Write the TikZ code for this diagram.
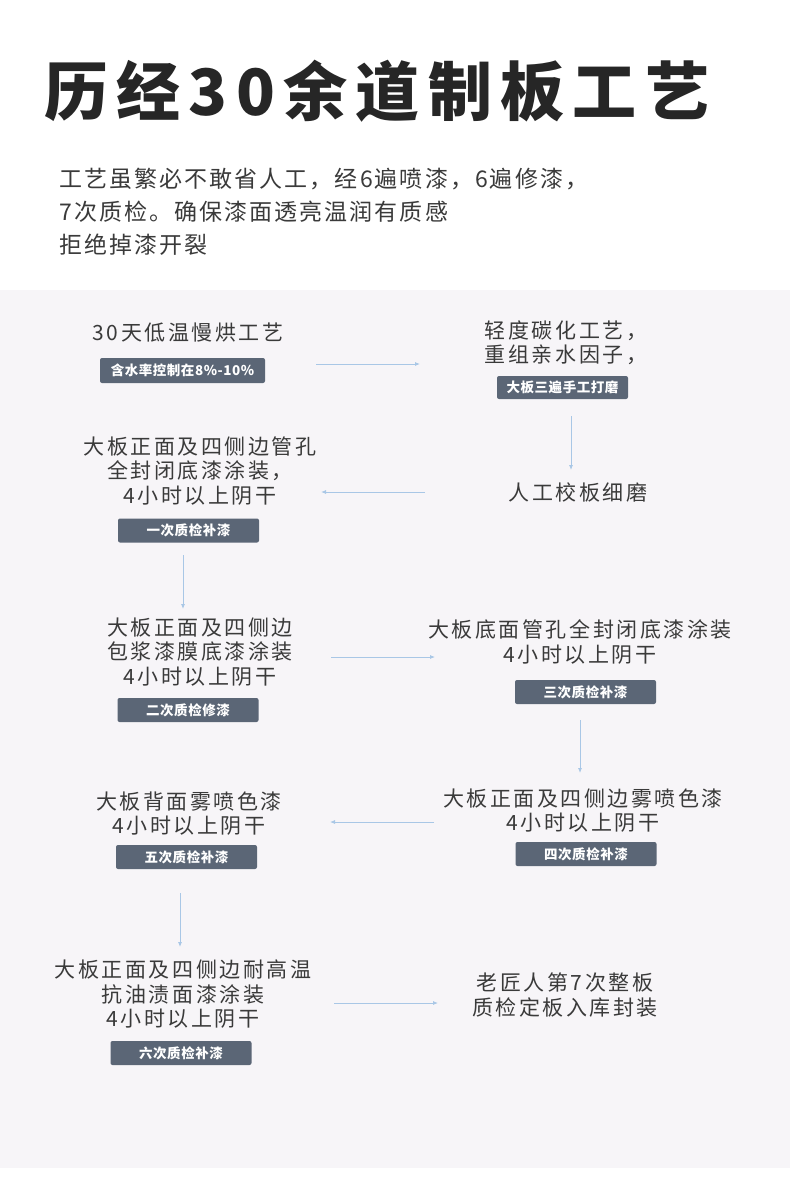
\documentclass[tikz,border=0pt]{standalone}
\usepackage{fontspec}
\usetikzlibrary{arrows.meta}
\setmainfont{Noto Sans CJK SC}
\newfontfamily\titlefont{Noto Sans CJK SC}[LetterSpace=13]
\newfontfamily\leadfont{Noto Sans CJK SC}[LetterSpace=9]
\newfontfamily\stepfont{Noto Sans CJK SC}[LetterSpace=12]
\newfontfamily\badgefont{Noto Sans CJK SC}[LetterSpace=4]

\begin{document}
\begin{tikzpicture}[x=1pt,y=-1pt,
  steptext/.style={font=\stepfont\fontsize{21}{24.5}\selectfont, text=mytext, align=center, inner sep=0pt},
  badge/.style={fill=mybadge, rounded corners=2pt, text=white, inner sep=0pt,
    font=\badgefont\bfseries\fontsize{13.5}{15}\selectfont, minimum width=141pt, minimum height=24pt},
  flow/.style={draw=myarrow, line width=0.8pt, -{Latex[length=5pt,width=4pt]}}]

\definecolor{mytext}{HTML}{3A3A3A}
\definecolor{mybadge}{HTML}{5B6676}
\definecolor{myarrow}{HTML}{A9C7E6}
\definecolor{myband}{HTML}{F7F5F8}

\useasboundingbox (0,0) rectangle (790,1193);
\fill[white] (0,0) rectangle (790,1193);
\fill[myband] (0,290) rectangle (790,1168);

% heading
\node[anchor=west, inner sep=0pt, text=black!85, font=\titlefont\bfseries\fontsize{64}{64}\selectfont]
  (title) at (44,91) {历经30余道制板工艺};
\node[anchor=north west, inner sep=0pt, text=mytext, align=left,
  font=\leadfont\fontsize{23}{33}\selectfont] (lead) at (59,168)
  {工艺虽繁必不敢省人工，经6遍喷漆，6遍修漆，\\7次质检。确保漆面透亮温润有质感\\拒绝掉漆开裂};

% steps
\node[steptext] (s1) at (188,333) {30天低温慢烘工艺};
\node[badge, minimum width=165pt, minimum height=25pt] (b1) at (182.5,370.5) {含水率控制在8\%-10\%};

\node[steptext] (s2) at (566,342.5) {轻度碳化工艺，\\重组亲水因子，};
\node[badge, minimum width=131pt, minimum height=23pt] (b2) at (562.5,387.5) {大板三遍手工打磨};

\node[steptext] (s3) at (578,492) {人工校板细磨};

\node[steptext] (s4) at (200,471) {大板正面及四侧边管孔\\全封闭底漆涂装，\\4小时以上阴干};
\node[badge] (b4) at (188.5,530.5) {一次质检补漆};

\node[steptext] (s5) at (200,652) {大板正面及四侧边\\包浆漆膜底漆涂装\\4小时以上阴干};
\node[badge] (b5) at (188,710) {二次质检修漆};

\node[steptext] (s6) at (580,642) {大板底面管孔全封闭底漆涂装\\4小时以上阴干};
\node[badge] (b6) at (585.5,692) {三次质检补漆};

\node[steptext] (s7) at (583,810.5) {大板正面及四侧边雾喷色漆\\4小时以上阴干};
\node[badge] (b7) at (586,854) {四次质检补漆};

\node[steptext] (s8) at (189,813.5) {大板背面雾喷色漆\\4小时以上阴干};
\node[badge] (b8) at (186.5,857) {五次质检补漆};

\node[steptext] (s9) at (183,994.5) {大板正面及四侧边耐高温\\抗油渍面漆涂装\\4小时以上阴干};
\node[badge] (b9) at (181,1053) {六次质检补漆};

\node[steptext] (s10) at (565,995) {老匠人第7次整板\\质检定板入库封装};

% arrow ends
\coordinate (a1) at (316,364);  \coordinate (a1e) at (420,364);
\coordinate (a2) at (571,416);  \coordinate (a2e) at (571,470);
\coordinate (a3) at (425,492);  \coordinate (a3e) at (321,492);
\coordinate (a4) at (183,555);  \coordinate (a4e) at (183,609);
\coordinate (a5) at (331,657);  \coordinate (a5e) at (435,657);
\coordinate (a6) at (580,720);  \coordinate (a6e) at (580,773);
\coordinate (a7) at (434,822);  \coordinate (a7e) at (330,822);
\coordinate (a8) at (180,893);  \coordinate (a8e) at (180,947);
\coordinate (a9) at (334,1003); \coordinate (a9e) at (438,1003);

\foreach \i in {1,...,9}
  \draw[flow] (a\i) -- (a\i e);

\end{tikzpicture}
\end{document}
